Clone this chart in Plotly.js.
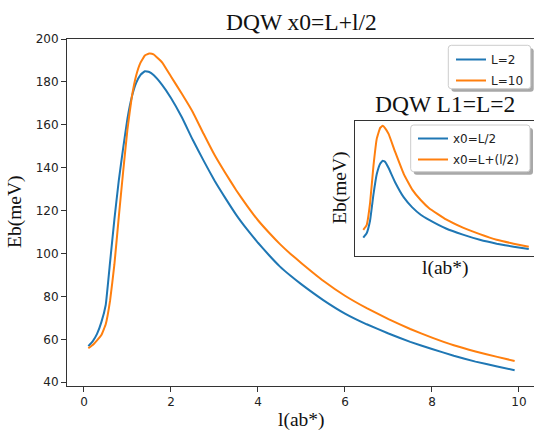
<!DOCTYPE html>
<html>
<head>
<meta charset="utf-8">
<script src="https://cdn.plot.ly/plotly-3.0.1.min.js"></script>
<style>html,body{margin:0;padding:0;background:#fff;overflow:hidden}#chart{width:534px;height:431px}</style>
</head>
<body>
<div id="chart"></div>
<script>
// ---- data ----
const mainX = [0.1,0.2,0.3,0.4,0.5,0.6,0.7,0.8,0.9,1.0,1.1,1.2,1.3,1.4,1.5,1.6,1.8,2.0,2.25,2.5,2.75,3.0,3.25,3.5,3.75,4.0,4.25,4.5,4.75,5.0,5.5,6.0,6.5,7.0,7.5,8.0,8.5,9.0,9.5,9.9];
const ebL2  = [56.8,59,62.5,68,76,96,116,134,149,163,173,179.5,183.3,185,184.6,183.2,178.5,172.5,163.5,153,143.3,134,125.8,118,111.2,105,99.3,94,89.6,85.6,78.3,72,67,62.7,58.8,55.5,52.3,49.6,47.3,45.6];
const ebL10 = [55.8,57.3,59.5,62,67,78,95,117,138,158,173,183,189,192.3,193.2,192.8,189,182.5,174.5,166,155.8,146,137.5,129.5,122.2,115.5,109.8,104.5,99.8,95.5,87.3,80.3,74.5,69.4,64.8,60.8,57.2,54.3,51.8,49.9];

const insetX      = [0.1,0.3,0.5,0.7,0.9,1.1,1.25,1.4,1.6,2.0,2.5,3.0,3.5,4.0,5.0,6.0,7.0,8.0,9.0,9.9];
const ebHalf      = [55.5,60.5,75,105,129,141,144.5,143,136,119,102,90.5,82,76,66,59,53,48.5,45,42.3];
const ebShifted   = [64.5,70,95,138,170,182.5,185,182,175.5,154,129,111,99,89.5,76.5,67,59.5,53,48.5,45];

const mainNames  = ["L=2","L=10"];
const insetNames = ["x0=L/2","x0=L+(l/2)"];
const xTicks = [0,2,4,6,8,10];
const yTicks = [40,60,80,100,120,140,160,180,200];

// ---- geometry ----
const W = 534, H = 431, ML = 67, MT = 39, MB = 45;
const PW = W - ML, PH = H - MT - MB;
const px = v => (v - ML) / PW;
const py = v => (H - MB - v) / PH;
function rrect(x0, y0, x1, y1, r) {
  const P = (a, b) => px(a).toFixed(5) + "," + py(b).toFixed(5);
  return "M" + P(x0 + r, y0) + " L" + P(x1 - r, y0) + " Q" + P(x1, y0) + " " + P(x1, y0 + r) +
         " L" + P(x1, y1 - r) + " Q" + P(x1, y1) + " " + P(x1 - r, y1) +
         " L" + P(x0 + r, y1) + " Q" + P(x0, y1) + " " + P(x0, y1 - r) +
         " L" + P(x0, y0 + r) + " Q" + P(x0, y0) + " " + P(x0 + r, y0) + " Z";
}

const BLUE = "#1f77b4", ORANGE = "#ff7f0e";
const serif = "Liberation Serif", sans = "DejaVu Sans";
const LINE = c => ({color: c, width: 2, shape: "spline", smoothing: 0.3});

const traces = [
  {x: mainX, y: ebL2,  name: mainNames[0], mode: "lines", line: LINE(BLUE),   xaxis: "x", yaxis: "y", legend: "legend", legendgroup: "a"},
  {x: mainX, y: ebL10, name: mainNames[1], mode: "lines", line: LINE(ORANGE), xaxis: "x", yaxis: "y", legend: "legend", legendgroup: "b"},
  {x: insetX, y: ebHalf,    name: insetNames[0], mode: "lines", line: LINE(BLUE),   xaxis: "x2", yaxis: "y2", legend: "legend2", legendgroup: "c"},
  {x: insetX, y: ebShifted, name: insetNames[1], mode: "lines", line: LINE(ORANGE), xaxis: "x2", yaxis: "y2", legend: "legend2", legendgroup: "d"}
];

const legendCommon = {
  xref: "container", yref: "container", xanchor: "left", yanchor: "top",
  bgcolor: "rgba(0,0,0,0)", borderwidth: 0, traceorder: "grouped", tracegroupgap: 2,
  font: {family: sans, size: 12, color: "#222"}
};

const layout = {
  width: W, height: H,
  margin: {l: ML, r: 0, t: MT, b: MB, pad: 0, autoexpand: false},
  paper_bgcolor: "#fff", plot_bgcolor: "rgba(0,0,0,0)",
  showlegend: true,
  xaxis: {
    domain: [0, 1], range: [-0.39, 10.345], tickvals: xTicks, ticktext: xTicks.map(String),
    showgrid: false, zeroline: false, showline: true, mirror: true, linecolor: "#333", linewidth: 1,
    ticks: "outside", ticklen: 5, tickwidth: 1, tickcolor: "#333",
    tickfont: {family: sans, size: 12, color: "#222"}
  },
  yaxis: {
    domain: [0, 1], range: [38.23, 200.0], tickvals: yTicks, ticktext: yTicks.map(String),
    showgrid: false, zeroline: false, showline: true, mirror: false, linecolor: "#333", linewidth: 1,
    ticks: "outside", ticklen: 5, tickwidth: 1, tickcolor: "#333",
    tickfont: {family: sans, size: 12, color: "#222"}
  },
  xaxis2: {
    domain: [px(355), 1], range: [-0.39, 10.21], anchor: "y2",
    showgrid: false, zeroline: false, showline: true, mirror: true, linecolor: "#333", linewidth: 1,
    showticklabels: false, ticks: ""
  },
  yaxis2: {
    domain: [py(255.5), py(120.5)], range: [34.8, 191], anchor: "x2",
    showgrid: false, zeroline: false, showline: true, mirror: false, linecolor: "#333", linewidth: 1,
    showticklabels: false, ticks: ""
  },
  legend:  Object.assign({}, legendCommon, {x: 451 / W, y: 1 - 45 / H}),
  legend2: Object.assign({}, legendCommon, {x: 413 / W, y: 1 - 124 / H}),
  shapes: [
    {type: "path", xref: "paper", yref: "paper", layer: "above", path: rrect(451.3, 48.3, 533.7, 91.7, 3), fillcolor: "#a8a8a8", line: {width: 0}},
    {type: "path", xref: "paper", yref: "paper", layer: "above", path: rrect(448.3, 45.3, 530.7, 88.7, 3), fillcolor: "#ffffff", line: {color: "#cccccc", width: 1}},
    {type: "path", xref: "paper", yref: "paper", layer: "above", path: rrect(413.7, 128, 533, 174.7, 3), fillcolor: "#a8a8a8", line: {width: 0}},
    {type: "path", xref: "paper", yref: "paper", layer: "above", path: rrect(410.7, 125, 530, 171.7, 3), fillcolor: "#ffffff", line: {color: "#cccccc", width: 1}}
  ],
  annotations: [
    {text: "DQW x0=L+l/2", xref: "paper", yref: "paper", x: px(301), y: py(22), xanchor: "center", yanchor: "middle", showarrow: false, font: {family: serif, size: 23.5, color: "#111"}},
    {text: "l(ab*)", xref: "paper", yref: "paper", x: px(301), y: py(420), xanchor: "center", yanchor: "middle", showarrow: false, font: {family: serif, size: 19.5, color: "#111"}},
    {text: "Eb(meV)", xref: "paper", yref: "paper", x: px(15), y: py(212), xanchor: "center", yanchor: "middle", textangle: -90, showarrow: false, font: {family: serif, size: 19.5, color: "#111"}},
    {text: "DQW L1=L=2", xref: "paper", yref: "paper", x: px(445), y: py(104), xanchor: "center", yanchor: "middle", showarrow: false, font: {family: serif, size: 23.5, color: "#111"}},
    {text: "l(ab*)", xref: "paper", yref: "paper", x: px(445), y: py(268), xanchor: "center", yanchor: "middle", showarrow: false, font: {family: serif, size: 19.5, color: "#111"}},
    {text: "Eb(meV)", xref: "paper", yref: "paper", x: px(340), y: py(188), xanchor: "center", yanchor: "middle", textangle: -90, showarrow: false, font: {family: serif, size: 19.5, color: "#111"}}
  ]
};

Plotly.newPlot("chart", traces, layout, {displayModeBar: false, staticPlot: true});
</script>
</body>
</html>
